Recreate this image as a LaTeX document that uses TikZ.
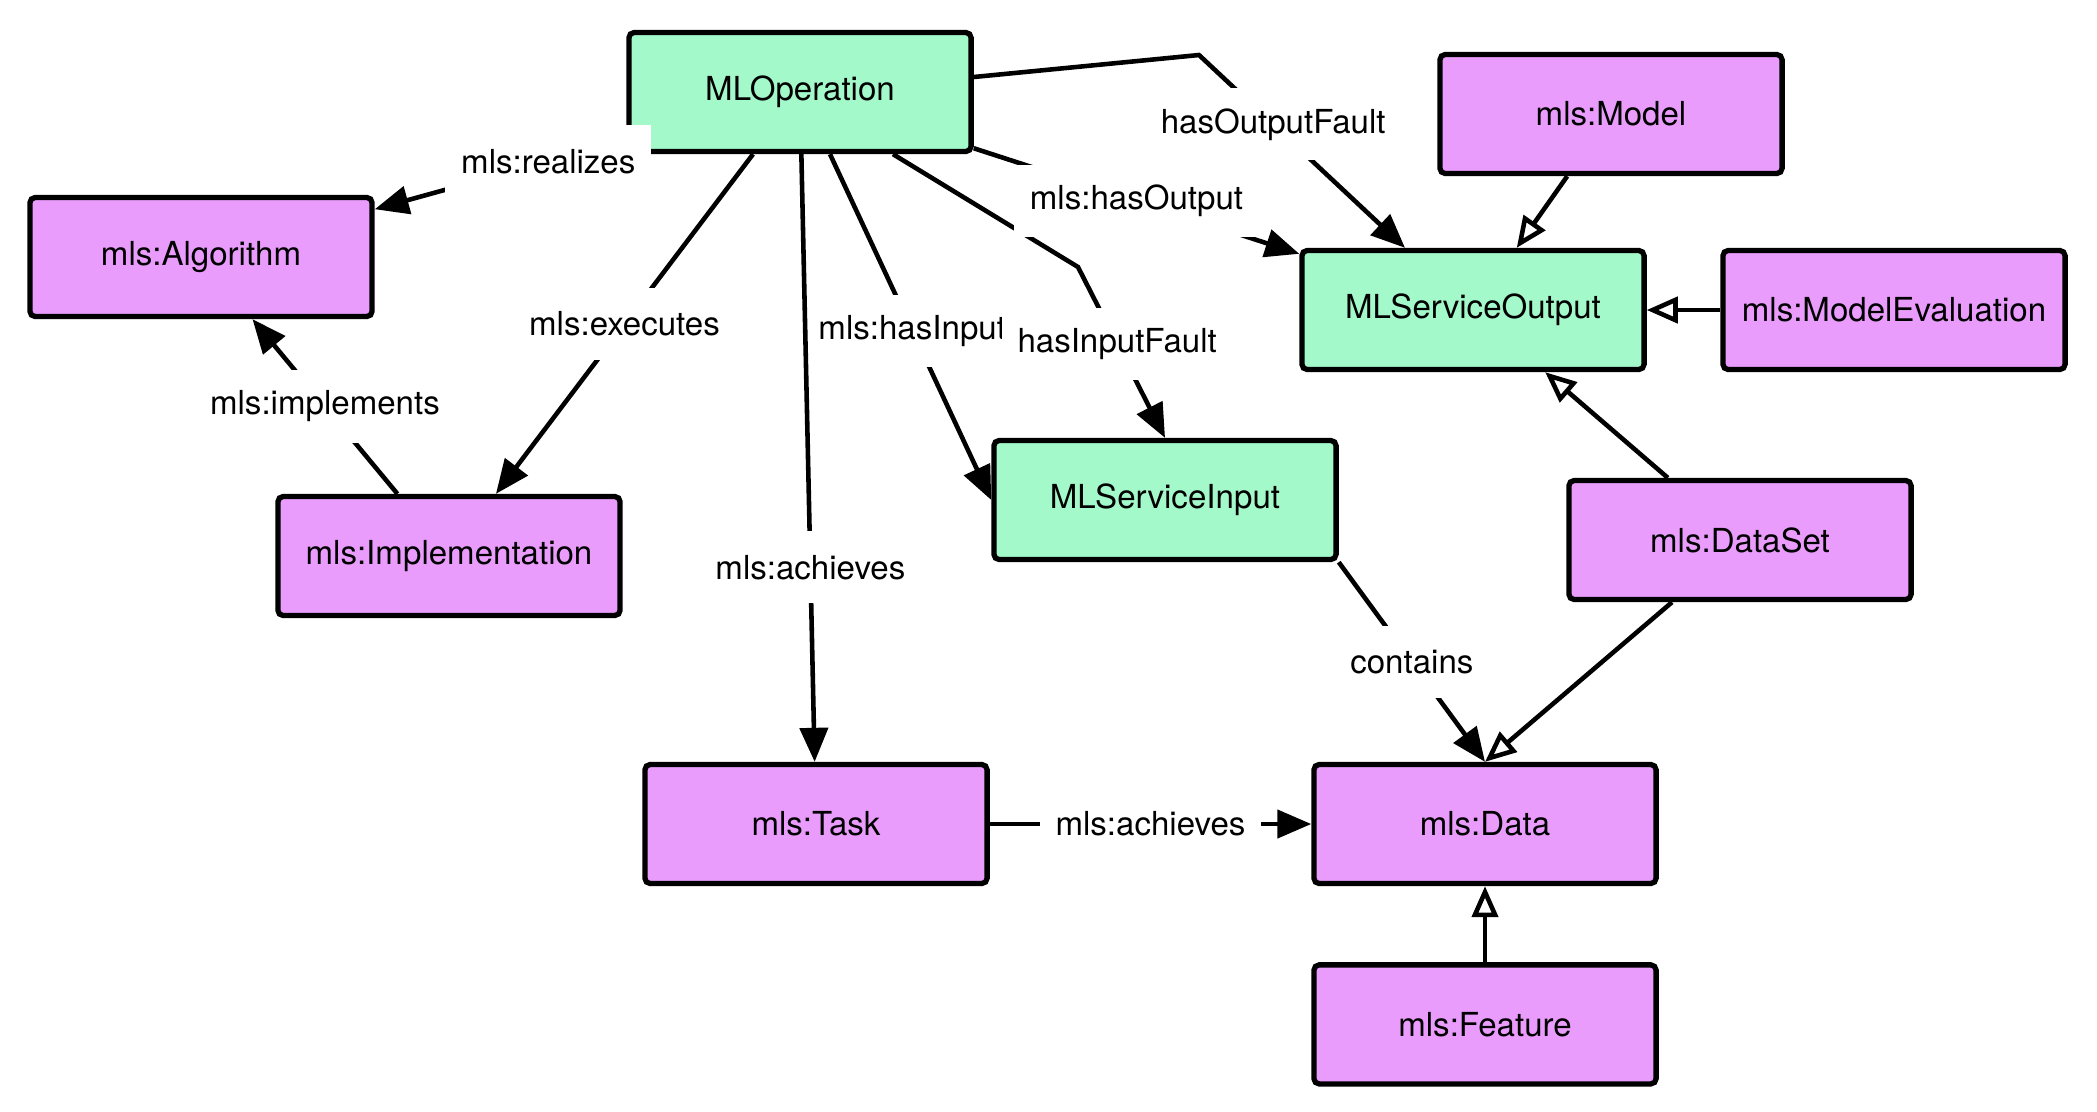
\documentclass[tikz,border=0pt]{standalone}
\usepackage{fontspec}
\setmainfont{TeX Gyre Heros}
\usepackage{tikz}
\usetikzlibrary{positioning,arrows.meta,calc}
\definecolor{svcgreen}{HTML}{A3F9C9}
\definecolor{mlspurple}{HTML}{E99CFC}
\tikzset{
  cls/.style={draw=black, fill=#1, rounded corners=1.5pt, line width=1.5pt, font=\fontsize{9.4}{11}\selectfont,
              minimum width=3.42cm, minimum height=1.19cm, inner sep=2pt},
  cls/.default=mlspurple,
  rel/.style={-{Triangle[length=3.4mm,width=2.8mm]}, line width=1.3pt},
  isa/.style={-{Triangle[open,length=3.1mm,width=2.6mm]}, line width=1.3pt},
  lbl/.style={fill=white, font=\fontsize{9.4}{11}\selectfont, inner xsep=1.6mm, inner ysep=0pt, minimum height=0.72cm},
}
\begin{document}
\begin{tikzpicture}[x=0.01cm, y=-0.01cm]
  \useasboundingbox (0,0) rectangle (2097,1111);
  \node[cls=svcgreen] (op) at (800,92) {MLOperation};
  \node[cls] (alg) at (201,257) {mls:Algorithm};
  \node[cls] (impl) at (449,556) {mls:Implementation};
  \node[cls] (task) at (816,824) {mls:Task};
  \node[cls=svcgreen] (sin) at (1165,500) {MLServiceInput};
  \node[cls=svcgreen] (sout) at (1473,310) {MLServiceOutput};
  \node[cls] (model) at (1611,114) {mls:Model};
  \node[cls] (meval) at (1894,310) {mls:ModelEvaluation};
  \node[cls] (dset) at (1740,540) {mls:DataSet};
  \node[cls] (data) at (1485,824) {mls:Data};
  \node[cls, below=0.76cm of data] (feat) {mls:Feature};
  \coordinate (ifbend) at (1078,267);
  \coordinate (ofbend) at (1199,55);
  \draw[rel] (op) -- node[lbl, pos=0.31] {mls:realizes} (alg);
  \draw[rel] (op) -- node[lbl] {mls:executes} (impl);
  \draw[rel] (impl) -- node[lbl] {mls:implements} (alg);
  \draw[rel] ($(op.south)+(30,0)$) -- node[lbl, pos=0.51] {mls:hasInput} (sin.west);
  \draw[rel] ($(op.south)+(93,0)$) -- (ifbend) -- node[lbl, pos=0.45] {hasInputFault} (sin.north);
  \draw[rel] (op) -- node[lbl, pos=0.68] {mls:achieves} (task);
  \draw[rel] (op) -- node[lbl] {mls:hasOutput} (sout);
  \draw[rel] ($(op.east)+(0,-15)$) -- (ofbend) -- node[lbl, pos=0.36] {hasOutputFault} ($(sout.north)+(-68,0)$);
  \draw[rel] (sin.south east) -- node[lbl] {contains} (data.north);
  \draw[rel] (task) -- node[lbl] {mls:achieves} (data);
  \draw[isa] (model) -- (sout);
  \draw[isa] (meval) -- (sout);
  \draw[isa] (dset) -- (sout);
  \draw[isa] ($(dset.south)+(-68,0)$) -- (data.north);
  \draw[isa] (feat) -- (data);
\end{tikzpicture}
\end{document}
